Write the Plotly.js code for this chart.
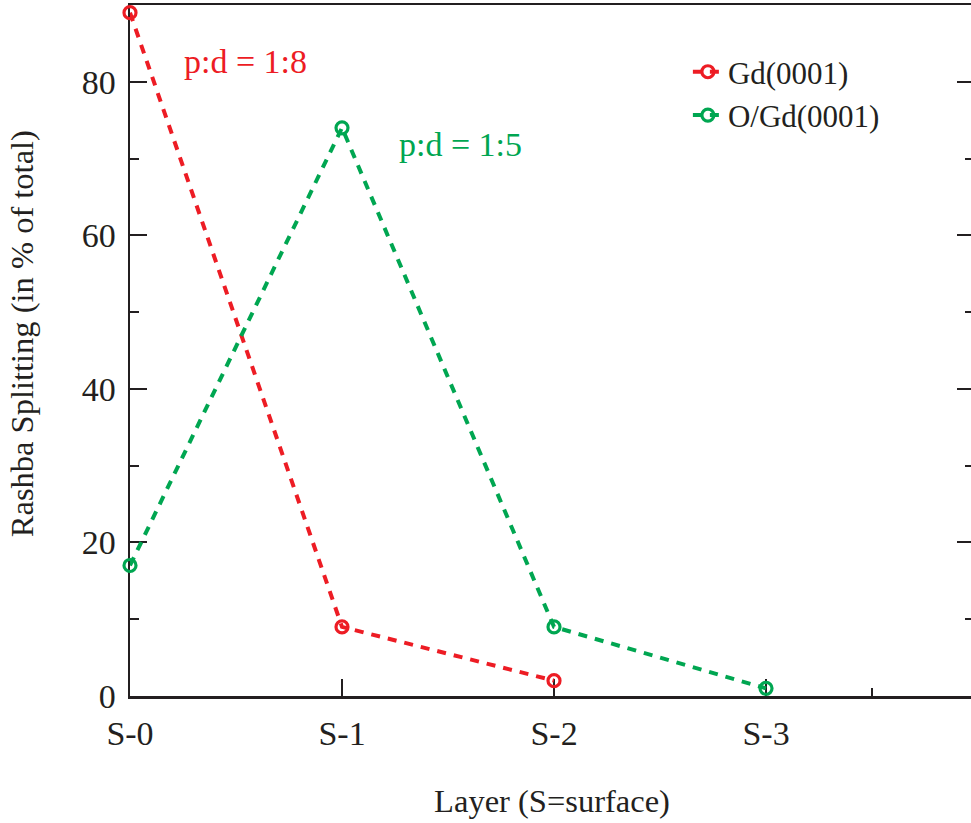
<!DOCTYPE html>
<html>
<head>
<meta charset="utf-8">
<script src="https://cdn.plot.ly/plotly-3.0.1.min.js"></script>
<style>html,body{margin:0;padding:0;overflow:hidden;background:#fff;}</style>
</head>
<body>
<div id="chart"></div>
<script>
const layers = ['S-0', 'S-1', 'S-2', 'S-3'];
const layerPos = [0, 1, 2, 3];
const gdValues = [89, 9, 2];
const ogdValues = [17, 74, 9, 1];
const seriesNames = ['Gd(0001)', 'O/Gd(0001)'];
const ratioLabels = ['p:d = 1:8', 'p:d = 1:5'];
const yTitle = 'Rashba Splitting (in % of total)';
const xTitle = 'Layer (S=surface)';

const red = '#ED1C24';
const green = '#00A651';
const ink = '#231F20';
const font = 'Liberation Serif, Times New Roman, serif';

const traces = [
  {
    x: layerPos.slice(0, gdValues.length), y: gdValues, name: seriesNames[0],
    mode: 'lines+markers', cliponaxis: false,
    line: {color: red, width: 4, dash: '9px,8px'},
    marker: {symbol: 'circle-open', size: 12, color: red, line: {width: 3.2, color: red}}
  },
  {
    x: layerPos.slice(0, ogdValues.length), y: ogdValues, name: seriesNames[1],
    mode: 'lines+markers', cliponaxis: false,
    line: {color: green, width: 4, dash: '9px,8px'},
    marker: {symbol: 'circle-open', size: 12, color: green, line: {width: 3.2, color: green}}
  }
];

const layout = {
  width: 975, height: 823,
  margin: {l: 130, r: 1, t: 5, b: 127},
  paper_bgcolor: '#fff', plot_bgcolor: '#fff',
  font: {family: font, color: ink, size: 32},
  showlegend: true,
  legend: {
    x: 0.661, y: 0.942, xanchor: 'left', yanchor: 'top',
    font: {family: font, size: 31, color: ink},
    bgcolor: 'rgba(0,0,0,0)', itemwidth: 30, tracegroupgap: 0
  },
  xaxis: {
    range: [0, 3.981], showgrid: false, zeroline: false,
    showline: true, linecolor: ink, linewidth: 2.5, mirror: true,
    tickvals: layerPos, ticktext: layers,
    ticks: 'inside', ticklen: 17, tickwidth: 1.2, tickcolor: ink,
    tickfont: {family: font, size: 34, color: ink},
    ticklabelstandoff: 6,
    minor: {tickvals: [3.5], ticks: 'inside', ticklen: 8, tickwidth: 1.2, tickcolor: ink, showgrid: false},
    title: {text: xTitle, font: {family: font, size: 32.5, color: ink}, standoff: 38},
    layer: 'below traces'
  },
  yaxis: {
    range: [0, 90], showgrid: false, zeroline: false,
    showline: true, linecolor: ink, linewidth: 2.5, mirror: 'ticks',
    tickvals: [0, 20, 40, 60, 80],
    ticks: 'inside', ticklen: 17, tickwidth: 2, tickcolor: ink,
    tickfont: {family: font, size: 34, color: ink},
    ticklabelstandoff: 5,
    minor: {tickvals: [10, 30, 50, 70], ticks: 'inside', ticklen: 9, tickwidth: 2, tickcolor: ink, showgrid: false},
    layer: 'below traces'
  },
  annotations: [
    {x: 0.547, y: 82.6, xref: 'x', yref: 'y', text: ratioLabels[0], showarrow: false,
     font: {family: font, size: 34, color: red}},
    {x: 1.56, y: 71.8, xref: 'x', yref: 'y', text: ratioLabels[1], showarrow: false,
     font: {family: font, size: 34, color: green}},
    {x: -0.128, y: 0.525, xref: 'paper', yref: 'paper', text: yTitle, showarrow: false,
     textangle: -90, xanchor: 'center', yanchor: 'middle',
     font: {family: font, size: 32.5, color: ink}}
  ]
};

Plotly.newPlot('chart', traces, layout, {displayModeBar: false, staticPlot: true});
</script>
</body>
</html>
